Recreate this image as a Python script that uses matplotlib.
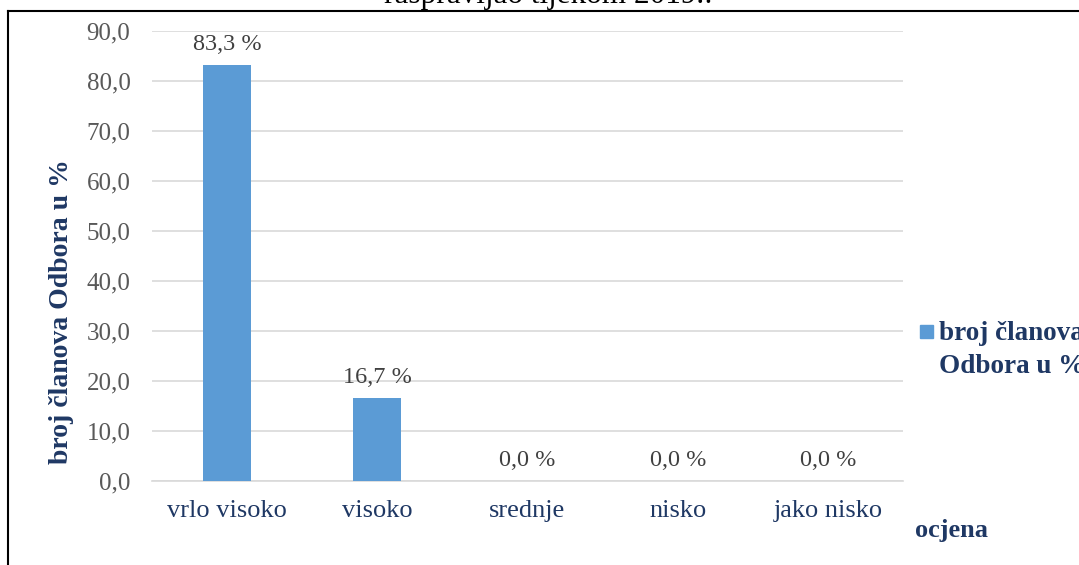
import matplotlib
matplotlib.use("Agg")
import matplotlib.pyplot as plt
from matplotlib.lines import Line2D
from matplotlib.patches import Rectangle

categories = ["vrlo visoko", "visoko", "srednje", "nisko", "jako nisko"]
values = [83.3, 16.7, 0.0, 0.0, 0.0]
yticks = [0, 10, 20, 30, 40, 50, 60, 70, 80, 90]
series_name = "broj članova\nOdbora u %"
title = "raspravljao tijekom 2019.:"
ylabel = "broj članova Odbora u %"
xlabel = "ocjena"

W, H = 1079, 565
plt.rcParams['font.family'] = ['Liberation Serif', 'DejaVu Serif']
fig = plt.figure(figsize=(W / 100, H / 100), dpi=100)
navy = "#1F3864"
gray = "#595959"
bar_color = "#5B9BD5"

ax = fig.add_axes([152 / W, 1 - 481 / H, (903 - 152) / W, (481 - 31) / H])
x = list(range(len(categories)))
bars = ax.bar(x, values, width=0.32, color=bar_color, zorder=3, label=series_name)
ax.set_xlim(-0.5, len(categories) - 0.5)
ax.set_ylim(0, 90)
ax.set_yticks(yticks)
ax.set_yticklabels([f"{v:.1f}".replace(".", ",") for v in yticks], fontsize=18, color=gray)
ax.set_xticks(x)
ax.set_xticklabels(categories, fontsize=19, color=navy)
ax.tick_params(axis='both', length=0)
ax.tick_params(axis='y', pad=15.5)
ax.tick_params(axis='x', pad=14)
ax.grid(axis='y', color="#D9D9D9", lw=1.2, zorder=0)
for s in ["top", "right", "left"]:
    ax.spines[s].set_visible(False)
ax.spines["bottom"].set_color("#D9D9D9")
ax.spines["bottom"].set_linewidth(1.2)

for xi, v in zip(x, values):
    ax.annotate(f"{v:.1f} %".replace(".", ","), (xi, v), xytext=(0, 14.5),
                textcoords="offset points", ha="center", va="center",
                fontsize=17.5, color="#404040")

fig.text(62 / W, 1 - 312 / H, ylabel, rotation=90, ha="center", va="center",
         fontsize=20, fontweight="bold", color=navy)
fig.text(915 / W, 1 - 530 / H, xlabel, ha="left", va="center",
         fontsize=19, fontweight="bold", color=navy)
fig.text(548 / W, 1 - 3 / H, title, ha="center", va="baseline", fontsize=22.5, color="black")

# legend (manually placed, as in the reference where it runs off the right edge)
fig.add_artist(Rectangle((920 / W, 1 - 338 / H), 13 / W, 13 / H,
                         transform=fig.transFigure, color=bar_color))
fig.text(939 / W, 1 - 350 / H, series_name, ha="left", va="center",
         fontsize=19.5, fontweight="bold", color=navy, linespacing=1.4)

fig.add_artist(Line2D([8 / W, 8 / W], [0, 1 - 11 / H], color="black", lw=1.5))
fig.add_artist(Line2D([8 / W, 1], [1 - 11 / H, 1 - 11 / H], color="black", lw=1.5))

fig.savefig("out.png", dpi=100)
